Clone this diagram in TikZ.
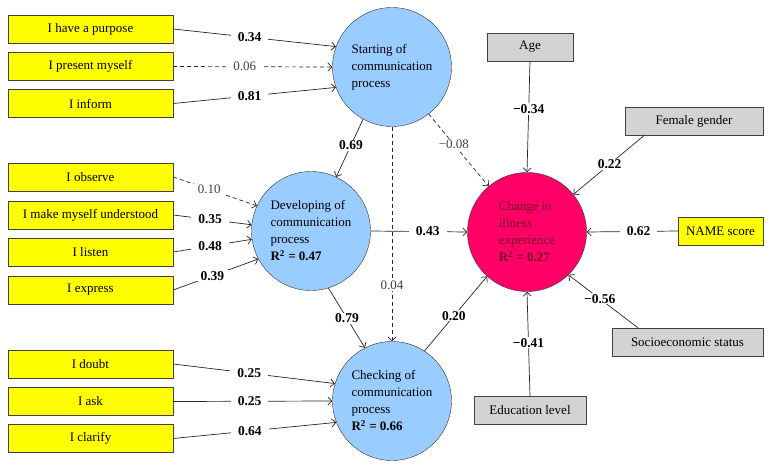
\documentclass[tikz,border=0pt]{standalone}
\usepackage{fontspec}
\setmainfont{Liberation Serif}
\usepackage{tikz}
\usetikzlibrary{arrows.meta}
\definecolor{ylw}{RGB}{255,255,0}
\definecolor{lblue}{RGB}{153,204,255}
\definecolor{pinkred}{RGB}{255,0,102}
\definecolor{darkred}{RGB}{120,0,40}
\definecolor{lgrey}{RGB}{211,211,211}

\begin{document}
\begin{tikzpicture}[x=1pt,y=-1pt,font=\fontsize{13}{17}\selectfont,
  ybox/.style={draw=black!75,fill=ylw,minimum width=165pt,minimum height=28pt,inner sep=0pt},
  gbox/.style={draw=black!75,fill=lgrey,minimum height=28pt,inner sep=0pt},
  lv/.style={circle,draw=black!80,fill=lblue,minimum size=119pt,inner sep=0pt,align=left},
  path/.style={draw=black!85,line width=0.7pt,-{Straight Barb[length=4pt,width=8pt]}},
  nspath/.style={path,dash pattern=on 4pt off 3pt},
  coef/.style={fill=white,inner xsep=7pt,inner ysep=1pt,font=\fontsize{13.5}{15}\selectfont\bfseries},
  ns/.style={fill=white,inner xsep=7pt,inner ysep=1pt,text=black!75}]
\useasboundingbox (0,0) rectangle (772,469);

\node[ybox] (purpose) at (90.5,29) {I have a purpose};
\node[ybox] (present) at (90.5,66.5) {I present myself};
\node[ybox] (inform) at (90.5,103.5) {I inform};
\node[ybox] (observe) at (90.5,177) {I observe};
\node[ybox] (understood) at (90.5,215) {I make myself understood};
\node[ybox] (listen) at (90.5,252) {I listen};
\node[ybox] (express) at (90.5,290) {I express};
\node[ybox] (doubt) at (90.5,364) {I doubt};
\node[ybox] (ask) at (90.5,401.5) {I ask};
\node[ybox] (clarify) at (90.5,438.5) {I clarify};

\node[lv] (start) at (392,67) {Starting of\\communication\\process};
\node[lv] (develop) at (311,231) {Developing of\\communication\\process\\\textbf{R\textsuperscript{2} = 0.47}};
\node[lv] (check) at (392,401) {Checking of\\communication\\process\\\textbf{R\textsuperscript{2} = 0.66}};
\node[lv,fill=pinkred,text=darkred] (change) at (527,232) {Change in\\illness\\experience\\\textbf{R\textsuperscript{2} = 0.27}};

\node[gbox,minimum width=86pt] (age) at (530,47) {Age};
\node[gbox,minimum width=138pt] (female) at (694,121) {Female gender};
\node[ybox,minimum width=85pt] (name) at (720.5,231) {NAME score};
\node[gbox,minimum width=151pt] (socio) at (687.5,342) {Socioeconomic status};
\node[gbox,minimum width=112pt] (edu) at (530,410) {Education level};

\draw[path] (purpose.east) -- node[coef,pos=.47] {0.34} (start.160);
\draw[nspath] (present.east) -- node[ns,pos=.45] {0.06} (start.180);
\draw[path] (inform.east) -- node[coef,pos=.47] {0.81} (start.200);

\draw[nspath] (observe.east) -- node[ns,pos=.43] {0.10} (develop.155);
\draw[path] (understood.east) -- node[coef,pos=.47] {0.35} (develop.174);
\draw[path] (listen.east) -- node[coef,pos=.47] {0.48} (develop.188);
\draw[path] (express.east) -- node[coef,pos=.46] {0.39} (develop.208);

\draw[path] (doubt.east) -- node[coef,pos=.47] {0.25} (check.163);
\draw[path] (ask.east) -- node[coef,pos=.48] {0.25} (check.180);
\draw[path] (clarify.east) -- node[coef,pos=.47] {0.64} (check.201);

\draw[path] (start.241) -- node[coef,pos=.45] {0.69} (develop.65);
\draw[nspath] (start.270) -- node[ns,pos=.74] {0.04} (check.90);
\draw[nspath] (start.308) -- node[ns,pos=.42] {−0.08} (change.130);
\draw[path] (develop.0) -- node[coef,pos=.59] {0.43} (change.180);
\draw[path] (develop.287) -- node[coef,pos=.51] {0.79} (check.117);
\draw[path] (check.57) -- node[coef,pos=.47] {0.20} (change.228);

\draw[path] (age.south) -- node[coef,pos=.43] {−0.34} (change.90);
\draw[path] (female.196) -- node[coef,pos=.49] {0.22} (change.39);
\draw[path] (name.west) -- node[coef,pos=.43] {0.62} (change.0);
\draw[path] (socio.164) -- node[coef,pos=.55] {−0.56} (change.314);
\draw[path] (edu.north) -- node[coef,pos=.51] {−0.41} (change.270);
\end{tikzpicture}
\end{document}
